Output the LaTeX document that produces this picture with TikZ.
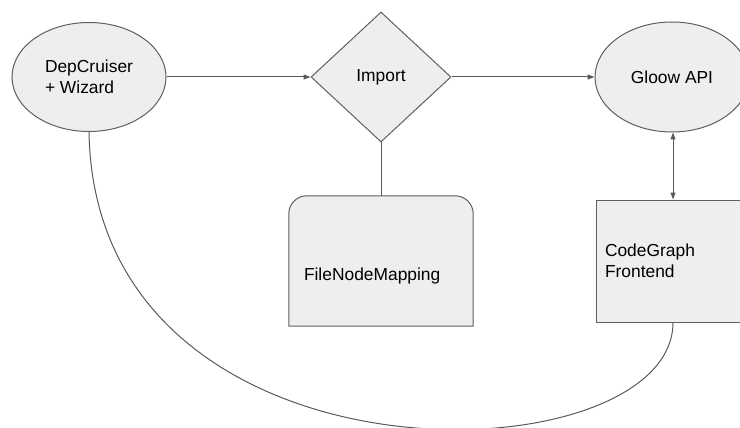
\documentclass[tikz,border=0pt]{standalone}
\usepackage{fontspec}
\setmainfont{Liberation Sans}
\usetikzlibrary{shapes.geometric,arrows.meta,calc}
\definecolor{shapefill}{HTML}{EEEEEE}
\definecolor{shapeline}{HTML}{5F5F5F}
\definecolor{connline}{HTML}{595959}
\tikzset{
  shapebox/.style={draw=shapeline,fill=shapefill,line width=1pt,inner sep=0pt,font=\fontsize{17.4}{20.5}\selectfont},
  ovalnode/.style={shapebox,ellipse},
  conn/.style={draw=connline,line width=1pt},
  arr/.style={conn,-{Triangle[length=7pt,width=5pt]}},
  darr/.style={conn,{Triangle[length=7pt,width=5pt]}-{Triangle[length=7pt,width=5pt]}},
}
\begin{document}
\begin{tikzpicture}[x=1pt,y=-1pt]
\useasboundingbox (0,0) rectangle (740,428);
\clip (0,0) rectangle (740,428);
\node[ovalnode,minimum width=154pt,minimum height=109pt,align=left] (dep) at (89,77) {DepCruiser\\+ Wizard};
\node[shapebox,diamond,minimum width=140pt,minimum height=130pt] (imp) at (381,77) {Import};
\node[ovalnode,minimum width=154pt,minimum height=110pt] (gl) at (672,77) {Gloow API};
\node[shapebox,rectangle,minimum width=154pt,minimum height=122pt,text width=136pt,inner xsep=9pt,align=left] (cg) at (673,261) {CodeGraph\\Frontend};
\node[rectangle,inner sep=0pt,minimum width=184pt,minimum height=130pt,font=\fontsize{17.4}{20.5}\selectfont] (fnm) at (381,261) {};
\path[shapebox] (fnm.south west) -- ([yshift=-18pt]fnm.north west) arc[start angle=180,end angle=90,radius=18pt] -- ([xshift=-18pt]fnm.north east) arc[start angle=90,end angle=0,radius=18pt] -- (fnm.south east) -- cycle;
\node[font=\fontsize{17.4}{20.5}\selectfont,anchor=west,inner sep=0pt] (fnmtext) at ([xshift=15pt,yshift=-15pt]fnm.west) {FileNodeMapping};
\draw[arr] (dep.east) -- (imp.west);
\draw[arr] (imp.east) -- (gl.west);
\draw[conn] (imp.south) -- (fnm.north);
\draw[darr] (gl.south -| cg.north) -- (cg.north);
\draw[conn] (dep.south) .. controls (95,500) and (673,480) .. (cg.south);
\end{tikzpicture}
\end{document}
